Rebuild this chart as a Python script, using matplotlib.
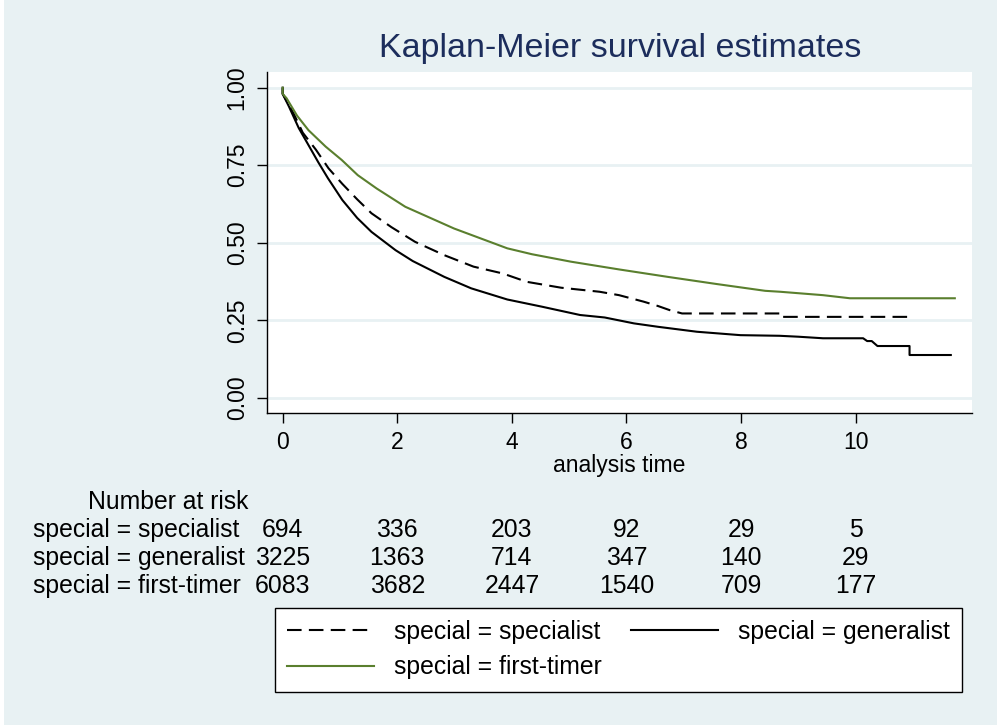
"""Kaplan-Meier survival estimates by specialisation, with number-at-risk table."""

import matplotlib.pyplot as plt
from matplotlib.transforms import blended_transform_factory

# Survival curves (analysis time, survival)
specialist_t = [0, 0, 0.19, 0.35, 0.58, 0.80, 1.04, 1.30, 1.55, 1.90, 2.31, 2.82,
                3.33, 3.84, 4.26, 4.86, 5.53, 5.87, 6.30, 6.55, 6.75, 6.97,
                8.67, 8.67, 10.95]
specialist_s = [1.0, 0.98, 0.917, 0.855, 0.80, 0.74, 0.69, 0.64, 0.595, 0.55,
                0.503, 0.46, 0.423, 0.401, 0.374, 0.355, 0.342, 0.331, 0.310,
                0.296, 0.283, 0.272, 0.272, 0.261, 0.261]

generalist_t = [0, 0, 0.11, 0.28, 0.45, 0.62, 0.79, 1.04, 1.30, 1.55, 1.97, 2.27,
                2.82, 3.29, 3.92, 4.52, 5.19, 5.62, 6.13, 6.55, 7.23, 7.99,
                8.67, 9.00, 9.43, 10.13, 10.20, 10.28, 10.38, 10.94, 10.94, 11.66]
generalist_s = [1.0, 0.98, 0.939, 0.87, 0.815, 0.76, 0.708, 0.638, 0.58, 0.535,
                0.476, 0.441, 0.390, 0.353, 0.317, 0.294, 0.267, 0.259, 0.240,
                0.229, 0.213, 0.202, 0.200, 0.197, 0.192, 0.192, 0.183, 0.183,
                0.167, 0.167, 0.138, 0.138]

firsttimer_t = [0, 0, 0.068, 0.25, 0.45, 0.75, 1.03, 1.31, 1.64, 2.14, 2.99,
                3.92, 4.35, 5.03, 5.87, 6.72, 7.57, 8.42, 8.68, 9.43, 9.90, 11.73]
firsttimer_s = [1.0, 0.98, 0.966, 0.91, 0.863, 0.81, 0.767, 0.718, 0.675, 0.616,
                0.546, 0.482, 0.463, 0.439, 0.414, 0.390, 0.367, 0.345, 0.342,
                0.331, 0.321, 0.321]

# Number at risk table
risk_times = [0, 2, 4, 6, 8, 10]
risk_specialist = [694, 336, 203, 92, 29, 5]
risk_generalist = [3225, 1363, 714, 347, 140, 29]
risk_firsttimer = [6083, 3682, 2447, 1540, 709, 177]

BG = "#E8F1F3"
GREEN = "#5A7F2E"
NAVY = "#1C2D5C"

plt.rcParams["font.family"] = ["Liberation Sans", "DejaVu Sans"]

W, H = 997, 725
fig = plt.figure(figsize=(W / 100, H / 100), dpi=100, facecolor="white")
fig.patches.append(plt.Rectangle((4 / W, 0), 1, 1, transform=fig.transFigure,
                                 facecolor=BG, edgecolor="none", zorder=-10))


def px(x0, y0, x1, y1):
    """Convert pixel box (top-left origin) to figure fraction rect."""
    return [x0 / W, 1 - y1 / H, (x1 - x0) / W, (y1 - y0) / H]


ax = fig.add_axes(px(266.7, 71.7, 972, 413))
ax.set_facecolor("white")

lw = 1.5
l_spec, = ax.plot(specialist_t, specialist_s, color="black", lw=lw,
                  linestyle=(0, (7.0, 3.5)), label="special = specialist")
l_gen, = ax.plot(generalist_t, generalist_s, color="black", lw=lw,
                 label="special = generalist")
l_first, = ax.plot(firsttimer_t, firsttimer_s, color=GREEN, lw=lw,
                   label="special = first-timer")

ax.set_xlim(-0.279, 12.03)
ax.set_ylim(-0.049, 1.0516)
ax.set_xticks(risk_times)
ax.set_yticks([0, 0.25, 0.5, 0.75, 1.0])
ax.set_yticklabels(["0.00", "0.25", "0.50", "0.75", "1.00"],
                   rotation=90, va="center")
ax.grid(axis="y", color=BG, lw=2)
ax.set_axisbelow(True)
for side in ["top", "right"]:
    ax.spines[side].set_visible(False)
for side in ["left", "bottom"]:
    ax.spines[side].set_linewidth(1.0)
ax.tick_params(length=7, width=1, labelsize=16.5, pad=6)
ax.set_xlabel("analysis time", fontsize=16.5, labelpad=0)

fig.text(620 / W, 1 - 49 / H, "Kaplan-Meier survival estimates",
         fontsize=24.5, color=NAVY, ha="center", va="center")

# Number at risk table
tr = blended_transform_factory(ax.transData, fig.transFigure)
fs = 17.8
fig.text(88 / W, 1 - 509 / H, "Number at risk", fontsize=fs, va="baseline")
rows = [("special = specialist", risk_specialist, 536.7),
        ("special = generalist", risk_generalist, 565),
        ("special = first-timer", risk_firsttimer, 593)]
for label, counts, base in rows:
    fig.text(33 / W, 1 - base / H, label, fontsize=fs, va="baseline")
    for t, n in zip(risk_times, counts):
        fig.text(t, 1 - base / H, str(n), fontsize=fs, va="baseline",
                 ha="center", transform=tr)

# Legend
leg = fig.legend([l_spec, l_first, l_gen],
                 ["special = specialist", "special = first-timer",
                  "special = generalist"],
                 ncol=2, loc="upper left", mode="expand",
                 bbox_to_anchor=px(275, 607.7, 962, 689), borderaxespad=0,
                 fontsize=fs, handlelength=3.5, handletextpad=0.8,
                 columnspacing=0.6, labelspacing=0.45, borderpad=0.5,
                 fancybox=False, framealpha=1, edgecolor="black")
leg.get_frame().set_linewidth(1.0)

fig.savefig("out.png", dpi=100, facecolor=fig.get_facecolor())
